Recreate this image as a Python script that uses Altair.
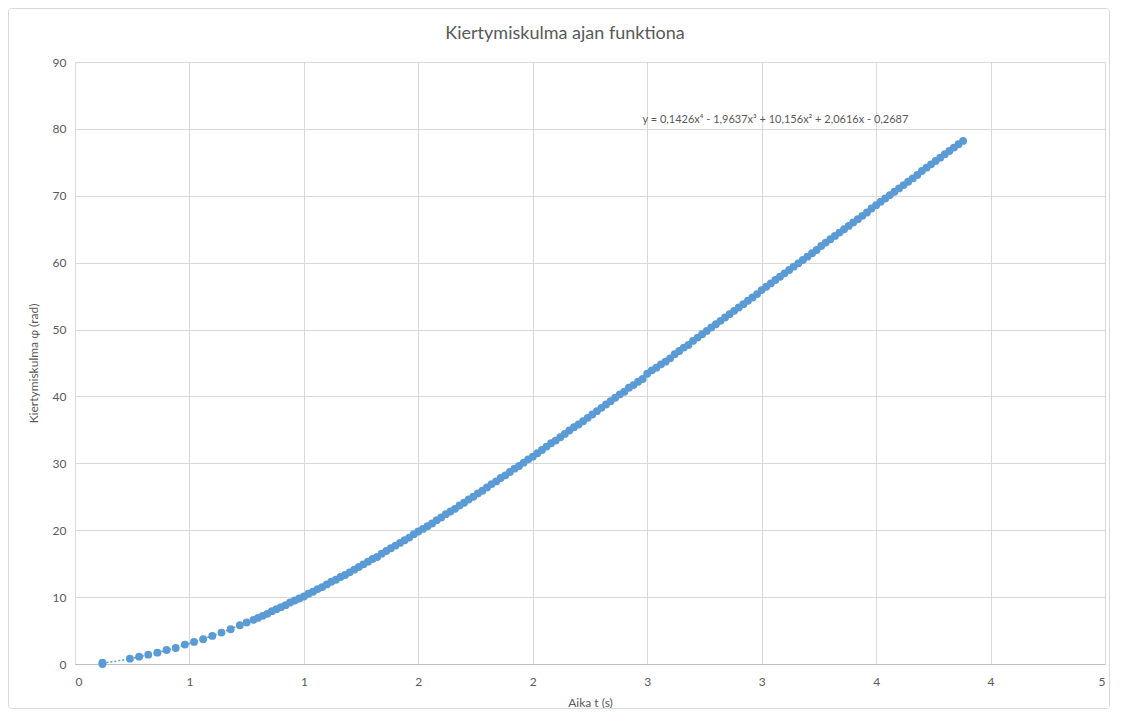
import altair as alt
import pandas as pd

# ---- data ----
time_s = [0.12, 0.12,
          0.24, 0.28, 0.32, 0.36, 0.40, 0.44, 0.48, 0.52, 0.56, 0.60,
          0.64, 0.68, 0.72, 0.75, 0.78,
          0.80, 0.82, 0.84, 0.86, 0.88, 0.90, 0.92, 0.94, 0.96, 0.98,
          1.00, 1.02, 1.04, 1.06, 1.08, 1.10, 1.12, 1.14, 1.16, 1.18,
          1.20, 1.22, 1.24, 1.26, 1.28, 1.30, 1.32, 1.34, 1.36, 1.38,
          1.40, 1.42, 1.44, 1.46, 1.48, 1.50, 1.52, 1.54, 1.56, 1.58,
          1.60, 1.62, 1.64, 1.66, 1.68, 1.70, 1.72, 1.74, 1.76, 1.78,
          1.80, 1.82, 1.84, 1.86, 1.88, 1.90, 1.92, 1.94, 1.96, 1.98,
          2.00, 2.02, 2.04, 2.06, 2.08, 2.10, 2.12, 2.14, 2.16, 2.18,
          2.20, 2.22, 2.24, 2.26, 2.28, 2.30, 2.32, 2.34, 2.36, 2.38,
          2.40, 2.42, 2.44, 2.46, 2.48, 2.50, 2.52, 2.54, 2.56, 2.58,
          2.60, 2.62, 2.64, 2.66, 2.68, 2.70, 2.72, 2.74, 2.76, 2.78,
          2.80, 2.82, 2.84, 2.86, 2.88, 2.90, 2.92, 2.94, 2.96, 2.98,
          3.00, 3.02, 3.04, 3.06, 3.08, 3.10, 3.12, 3.14, 3.16, 3.18,
          3.20, 3.22, 3.24, 3.26, 3.28, 3.30, 3.32, 3.34, 3.36, 3.38,
          3.40, 3.42, 3.44, 3.46, 3.48, 3.50, 3.52, 3.54, 3.56, 3.58,
          3.60, 3.62, 3.64, 3.66, 3.68, 3.70, 3.72, 3.74, 3.76, 3.78,
          3.80, 3.82, 3.84, 3.86, 3.88]
phi_rad = [0.0, 0.2,
           0.8, 1.1, 1.4, 1.7, 2.1, 2.4, 2.9, 3.3, 3.7, 4.2,
           4.7, 5.2, 5.8, 6.2, 6.6,
           6.9, 7.2, 7.5, 7.9, 8.2, 8.5, 8.8, 9.2, 9.5, 9.8,
           10.1, 10.5, 10.8, 11.2, 11.5, 11.9, 12.3, 12.6, 13.0, 13.3,
           13.7, 14.1, 14.5, 14.9, 15.3, 15.7, 16.0, 16.5, 16.9, 17.3,
           17.7, 18.1, 18.5, 18.9, 19.4, 19.8, 20.2, 20.6, 21.0, 21.5,
           21.9, 22.4, 22.8, 23.2, 23.7, 24.1, 24.6, 25.0, 25.5, 25.9,
           26.4, 26.9, 27.3, 27.8, 28.2, 28.7, 29.2, 29.6, 30.1, 30.6,
           31.0, 31.5, 32.0, 32.5, 33.0, 33.4, 33.9, 34.4, 34.9, 35.4,
           35.8, 36.3, 36.8, 37.3, 37.8, 38.3, 38.8, 39.3, 39.8, 40.3,
           40.7, 41.3, 41.7, 42.2, 42.6, 43.4, 43.9, 44.3, 44.8, 45.2,
           45.7, 46.3, 46.8, 47.3, 47.7, 48.3, 48.8, 49.3, 49.8, 50.3,
           50.8, 51.3, 51.8, 52.3, 52.8, 53.3, 53.8, 54.3, 54.8, 55.3,
           55.9, 56.4, 56.9, 57.4, 57.9, 58.4, 58.9, 59.4, 59.9, 60.4,
           60.9, 61.4, 61.9, 62.5, 63.0, 63.5, 64.0, 64.5, 65.0, 65.5,
           66.0, 66.5, 67.0, 67.5, 68.1, 68.6, 69.1, 69.6, 70.1, 70.6,
           71.1, 71.6, 72.1, 72.6, 73.1, 73.7, 74.2, 74.7, 75.2, 75.7,
           76.2, 76.7, 77.2, 77.7, 78.2]

x_tick_values = [0, 0.5, 1, 1.5, 2, 2.5, 3, 3.5, 4, 4.5]
x_tick_labels = ["0", "1", "1", "2", "2", "3", "3", "4", "4", "5"]
y_tick_values = [0, 10, 20, 30, 40, 50, 60, 70, 80, 90]

equation_text = ["y = 0,1426x\u2074 - 1,9637x\u00b3 + 10,156x\u00b2 + 2,0616x - 0,2687"]
equation_t = [3.06]
equation_phi = [81.4]

title_text = ["Kiertymiskulma ajan funktiona"]
x_title = "Aika t (s)"
y_title = "Kiertymiskulma \u0278 (rad)"

df = pd.DataFrame({"t": time_s, "phi": phi_rad})
eq_df = pd.DataFrame({"t": equation_t, "phi": equation_phi, "label": equation_text})
title_df = pd.DataFrame({"label": title_text})

BLUE = "#5B9BD5"
GRAY = "#595959"
FONT = "Lato"
W, H = 1030, 602

label_expr = "[" + ",".join("'%s'" % s for s in x_tick_labels) + "][round(datum.value*2)]"

xscale = alt.Scale(domain=[0, 4.5], nice=False, zero=False)
yscale = alt.Scale(domain=[0, 90], nice=False)

xaxis = alt.Axis(values=x_tick_values, labelExpr=label_expr, title=x_title,
                 grid=True, ticks=False, domain=True, domainColor="#BFBFBF",
                 labelPadding=12, titlePadding=10)
yaxis = alt.Axis(values=y_tick_values, title=y_title, grid=True, ticks=False,
                 domain=False, labelPadding=9, titlePadding=12)

points = alt.Chart(df).mark_circle(size=62, color=BLUE, opacity=1).encode(
    x=alt.X("t:Q", scale=xscale, axis=xaxis),
    y=alt.Y("phi:Q", scale=yscale, axis=yaxis),
)

trend = alt.Chart(df).transform_regression(
    "t", "phi", method="poly", order=4
).mark_line(color=BLUE, strokeDash=[2, 2], strokeWidth=1.5).encode(
    x=alt.X("t:Q", scale=xscale),
    y=alt.Y("phi:Q", scale=yscale),
)

eq = alt.Chart(eq_df).mark_text(font=FONT, fontSize=11, color=GRAY,
                                align="center", baseline="middle").encode(
    x=alt.X("t:Q", scale=xscale),
    y=alt.Y("phi:Q", scale=yscale),
    text="label:N",
)

title = alt.Chart(title_df).mark_text(font=FONT, fontSize=18, color=GRAY,
                                      align="center", baseline="middle").encode(
    x=alt.value(490), y=alt.value(-28), text="label:N",
)

border = alt.Chart(pd.DataFrame({"k": [0]})).mark_rect(
    fill=None, stroke="#D9D9D9", strokeWidth=1, cornerRadius=3
).encode(
    x=alt.value(-66.5), x2=alt.value(W + 4.5),
    y=alt.value(-53.5), y2=alt.value(H + 44.5),
)

chart = alt.layer(border, trend, points, eq, title).properties(
    width=W, height=H,
    autosize=alt.AutoSizeParams(type="none"),
    padding={"left": 67, "top": 54, "right": 5, "bottom": 45},
).configure_view(stroke=None).configure_axis(
    gridColor="#D9D9D9", gridWidth=1,
    labelFont=FONT, labelFontSize=12, labelColor=GRAY,
    titleFont=FONT, titleFontSize=12, titleColor=GRAY, titleFontWeight="normal",
)

chart.save("out.html", embed_options={"renderer": "svg", "actions": False})
